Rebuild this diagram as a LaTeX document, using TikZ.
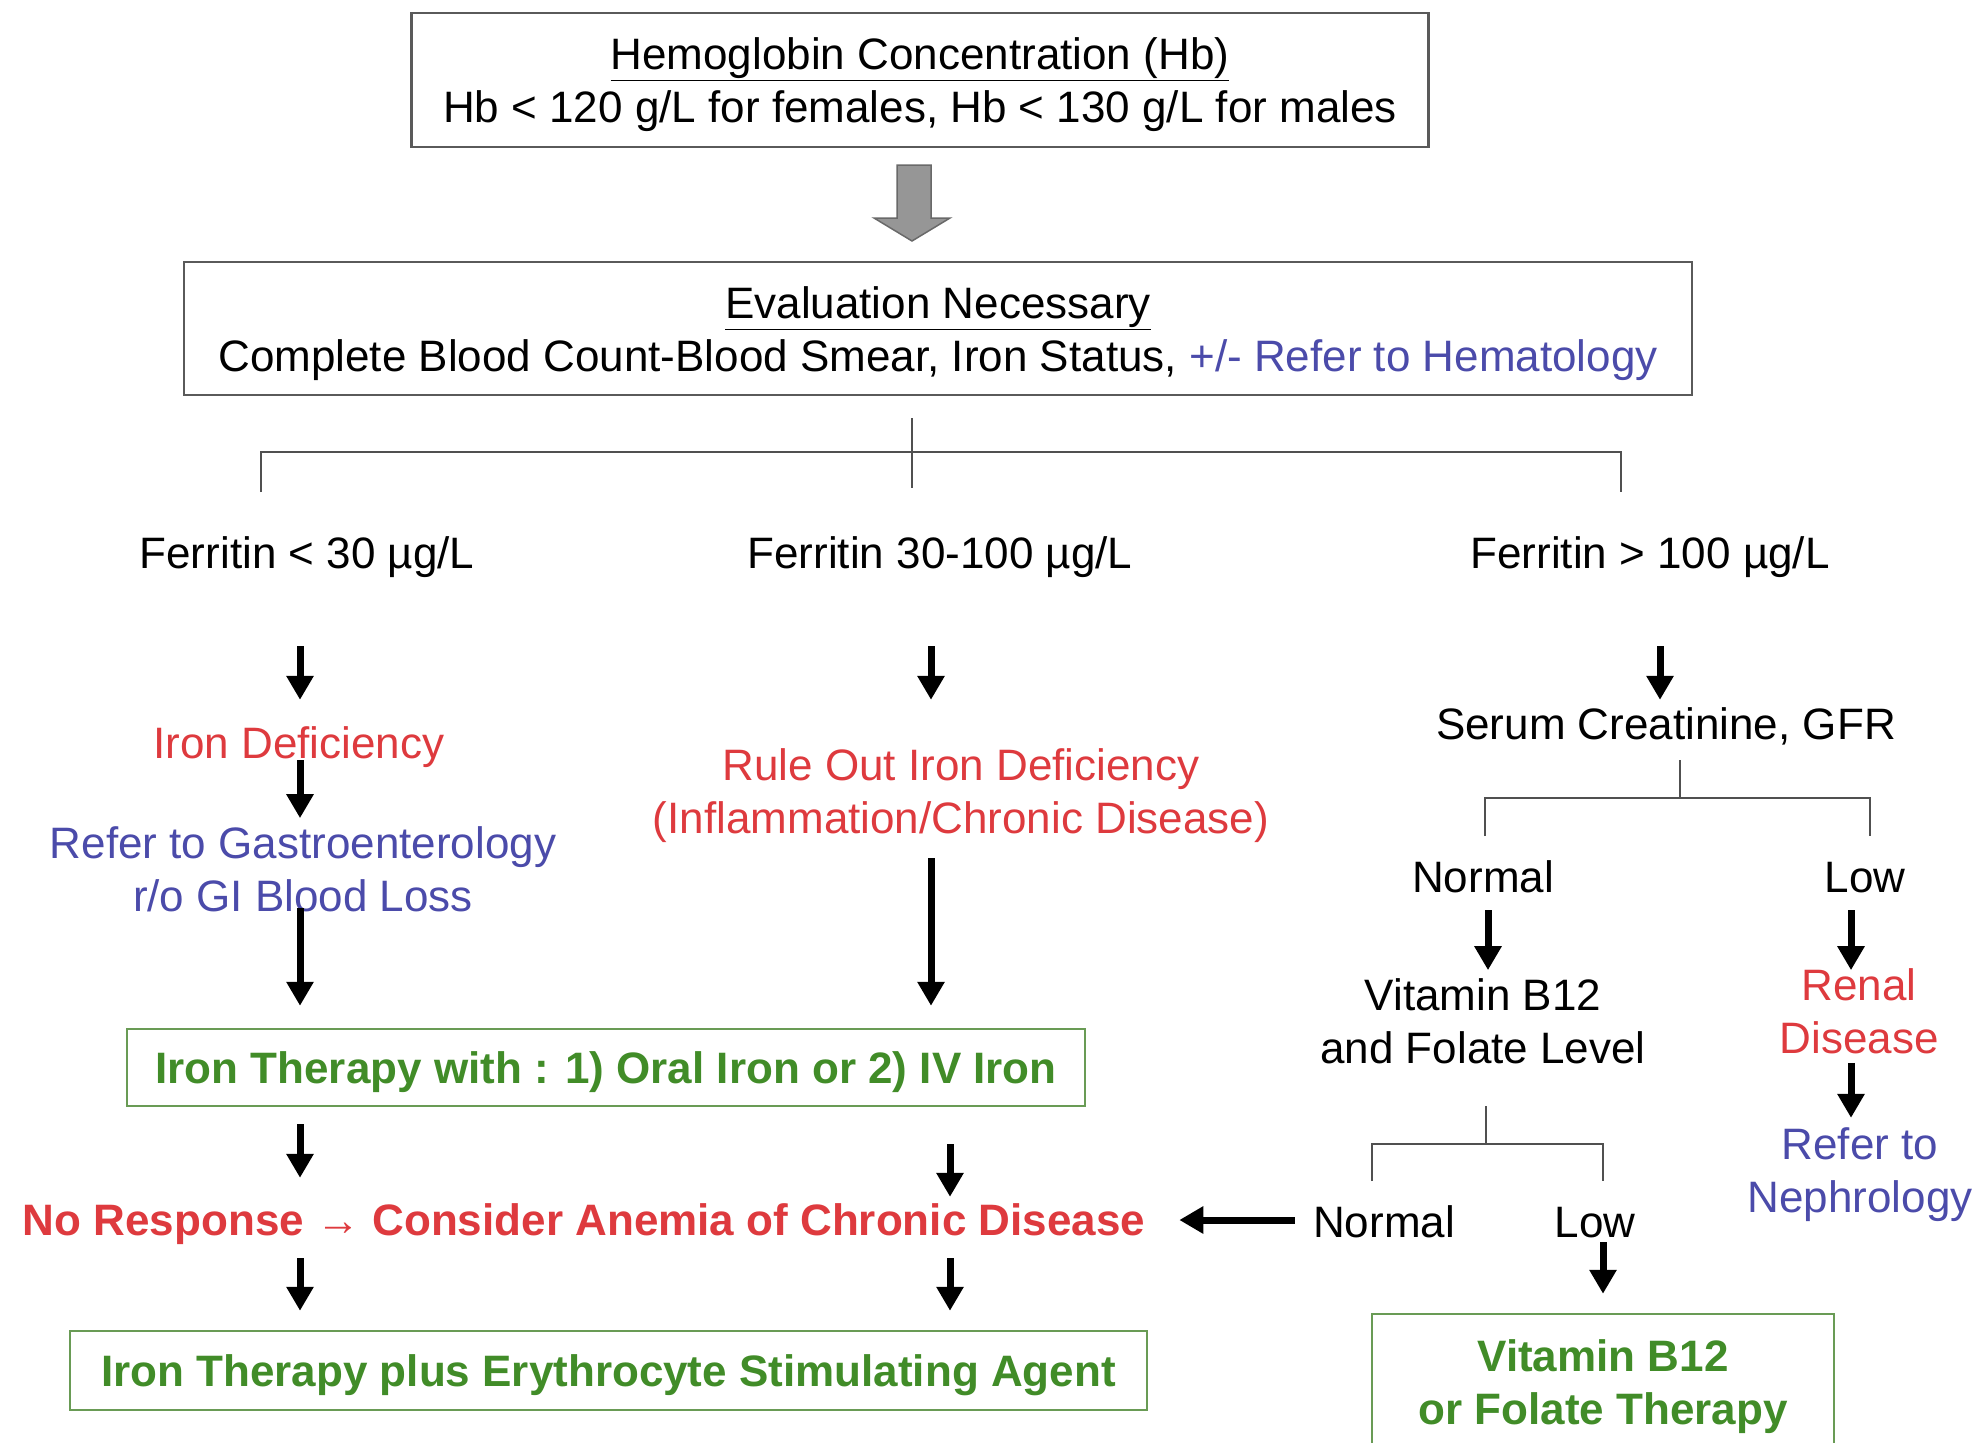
\documentclass[tikz,border=0pt]{standalone}
\usepackage{fontspec}
\setmainfont{Liberation Sans}
\usetikzlibrary{arrows.meta,calc}
\definecolor{myred}{RGB}{222,58,62}
\definecolor{myblue}{RGB}{75,75,170}
\definecolor{mygreen}{RGB}{65,140,40}
\definecolor{greenborder}{RGB}{105,155,85}
\definecolor{boxgray}{RGB}{90,90,90}
\definecolor{brkgray}{RGB}{80,80,80}
\newcommand\vArrow[5]{\draw[arr,shorten <=#4,shorten >=#5] ($(#1.south)+(#3,0)$) -- ($(#1.south |- #2.north)+(#3,0)$);}
\newcommand\topstrut{\rule{0pt}{42pt}}
\begin{document}
\begin{tikzpicture}[x=1pt,y=-1pt,
  base/.style={font=\fontsize{44}{53}\selectfont, inner sep=0pt},
  one/.style={base, text height=32pt, text depth=9pt},
  two/.style={base, align=center},
  rtxt/.style={text=myred},
  btxt/.style={text=myblue},
  gbox/.style={draw=greenborder, line width=2.5pt, font=\fontsize{44}{53}\selectfont\bfseries, text=mygreen, align=center, inner sep=0pt},
  kbox/.style={draw=boxgray, line width=2.5pt, base, align=center},
  arr/.style={line width=7pt, -{Triangle[length=24pt,width=26pt]}},
  brk/.style={draw=brkgray, line width=2.8pt},
]
\fill[white] (0,0) rectangle (1987,1443);
\useasboundingbox (0,0) rectangle (1987,1443);
\clip (0,0) rectangle (1987,1443);

% boxes
\node[kbox, minimum width=1017pt, minimum height=134pt] (hb) at (920,80)
  {\topstrut\underline{Hemoglobin Concentration (Hb)}\\Hb < 120 g/L for females, Hb < 130 g/L for males};
\node[kbox, minimum width=1508pt, minimum height=133pt] (ev) at (938,328.5)
  {\topstrut\underline{Evaluation Necessary}\\Complete Blood Count-Blood Smear, Iron Status, \textcolor{myblue}{+/- Refer to Hematology}};

% gray block arrow
\filldraw[fill={rgb,255:red,150;green,150;blue,150}, draw={rgb,255:red,105;green,105;blue,105}, line width=1.5pt]
  (897,165) -- (931,165) -- (931,218) -- (950,218) -- (912,241) -- (874,218) -- (897,218) -- cycle;

% top bracket
\draw[brk] (912,418) -- (912,488);
\draw[brk] (261,492) |- (1621,452) -- (1621,492);

% ferritin labels
\node[one] (f1) at (307,557) {Ferritin < 30 µg/L};
\node[one] (f2) at (940,557) {Ferritin 30-100 µg/L};
\node[one] (f3) at (1650,557) {Ferritin > 100 µg/L};

% left column
\node[one, rtxt] (idef) at (299,747) {Iron Deficiency};
\node[two, btxt] (gastro) at (303,869) {Refer to Gastroenterology\\r/o GI Blood Loss};

% middle column
\node[two, rtxt] (rule) at (961,796) {Rule Out Iron Deficiency\\(Inflammation/Chronic Disease)};

% green boxes
\node[gbox, minimum width=958pt, minimum height=77pt] (g1) at (606,1067.5)
  {\topstrut Iron Therapy with : 1) Oral Iron or 2) IV Iron};
\node[one, rtxt, font=\fontsize{44}{53}\selectfont\bfseries] (nr) at (584,1224)
  {No Response → Consider Anemia of Chronic Disease};
\node[gbox, minimum width=1077pt, minimum height=79pt] (g2) at (608.5,1370.5)
  {\topstrut Iron Therapy plus Erythrocyte Stimulating Agent};

% right column
\node[one] (serum) at (1666,728) {Serum Creatinine, GFR};
\draw[brk] (1680,760) -- (1680,798);
\draw[brk] (1485,836) |- (1870,798) -- (1870,836);
\node[one] (normal1) at (1483,881) {Normal};
\node[one] (low1) at (1865,881) {Low};
\node[two] (vit) at (1483,1021) {Vitamin B12\\and Folate Level};
\node[two, rtxt] (renal) at (1859,1011) {Renal\\Disease};
\node[two, btxt] (nephro) at (1860,1175) {Refer to\\Nephrology};
\draw[brk] (1486,1106) -- (1486,1144);
\draw[brk] (1372,1181) |- (1603,1144) -- (1603,1181);
\node[one] (normal2) at (1384,1226) {Normal};
\node[one] (low2) at (1595,1226) {Low};
\node[gbox, minimum width=462pt, minimum height=136pt] (g3) at (1603,1382)
  {\topstrut Vitamin B12\\or Folate Therapy};

% arrows
\vArrow{f1}{idef}{-7}{68.5pt}{26.5pt}
\vArrow{f2}{rule}{-9}{68.5pt}{49pt}
\vArrow{f3}{serum}{10}{68.5pt}{7.5pt}
\vArrow{idef}{gastro}{1}{-7.5pt}{8pt}
\vArrow{gastro}{g1}{-3}{-4pt}{22pt}
\vArrow{rule}{g1}{-30}{15pt}{22pt}
\vArrow{g1}{nr}{-306}{17pt}{25.5pt}
\vArrow{g1}{nr}{344}{37pt}{6.5pt}
\vArrow{nr}{g2}{-284}{13.5pt}{19pt}
\vArrow{nr}{g2}{366}{13.5pt}{19pt}
\vArrow{normal1}{vit}{5}{8.5pt}{8pt}
\vArrow{low1}{renal}{-14}{8.5pt}{-2pt}
\vArrow{renal}{nephro}{-8}{9pt}{10pt}
\vArrow{low2}{g3}{8}{-4.5pt}{19pt}
\draw[arr, shorten <=18pt, shorten >=34pt] ($(normal2.west)+(0,-6)$) -- ($(normal2.west -| nr.east)+(0,-6)$);
\end{tikzpicture}
\end{document}
